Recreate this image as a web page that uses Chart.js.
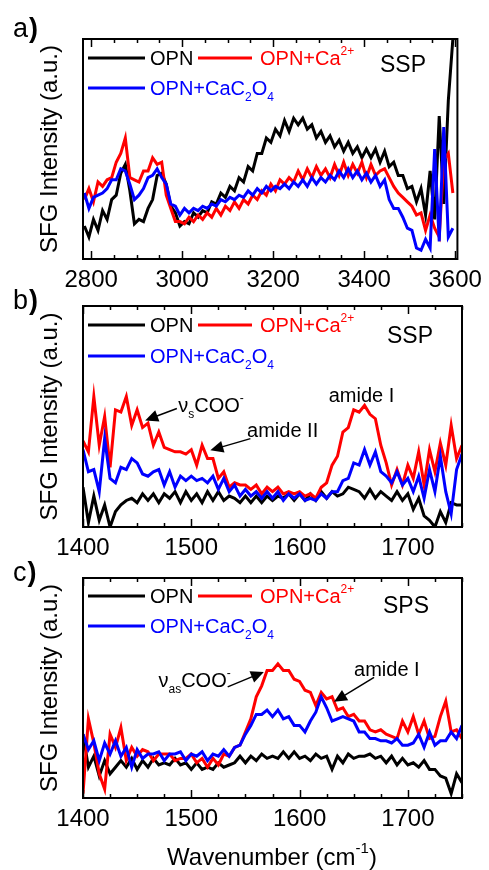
<!DOCTYPE html>
<html><head><meta charset="utf-8">
<script src="https://cdn.jsdelivr.net/npm/chart.js@4.4.0/dist/chart.umd.min.js"></script>
<style>
html,body{margin:0;padding:0;background:#fff;}
#wrap{position:relative;width:489px;height:870px;background:#fff;}
canvas{position:absolute;left:0;top:0;}
</style></head><body>
<div id="wrap">
<canvas id="ca" width="489" height="870"></canvas>
<canvas id="cb" width="489" height="870"></canvas>
<canvas id="cc" width="489" height="870"></canvas>
</div>
<script>
// ---------------- DATA ----------------
const seriesNames = ['OPN', 'OPN+Ca2+', 'OPN+CaC2O4'];
const ticksA = [2800, 3000, 3200, 3400, 3600];
const ticksBC = [1400, 1500, 1600, 1700];

// panel a) SSP, C-H / O-H region
const wavenumbersA = [2785,2795,2805,2815,2825,2835,2845,2855,2865,2875,2885,2895,2905,2915,2925,2935,2945,2955,2965,2975,2985,2995,
3005,3015,3025,3035,3045,3055,3065,3075,3085,3095,3105,3115,3125,3135,3145,3155,3165,3175,3185,3195,
3205,3215,3225,3235,3245,3255,3265,3275,3285,3295,3305,3315,3325,3335,3345,3355,3365,3375,3385,3395,
3405,3415,3425,3435,3445,3455,3465,3475,3485,3495,3505,3515,3525,3535,3545,3555,3565,3575,3585,3595];
const opnA = [15,10,18,13,22,18,27,29,39,43,31,16,18,17,23,27,38,39,34,24,21,15,
17,16,21,19,22,21,26,25,30,28,33,31,37,35,42,40,48,48,55,53,
59,56,63,58,64,61,64,59,61,55,58,53,56,51,54,49,53,48,51,46,
50,46,50,44,49,42,44,38,38,32,33,26,32,20,40,18,65,25,72,100];
const opnCaA = [27,32,26,35,33,36,37,44,48,55,37,36,35,40,40,46,43,44,29,23,17,17,
16,19,17,20,18,21,19,23,20,24,22,26,23,27,25,29,27,31,29,34,
31,36,34,37,35,40,36,41,37,42,38,41,37,43,38,44,38,43,39,44,
37,43,38,40,41,37,33,30,28,26,24,20,21,13,20,14,10,45,48,30];
const opnCaC2O4A = [30,23,28,29,30,32,36,36,41,40,34,27,29,32,37,38,41,37,34,25,24,20,
23,21,23,22,24,23,25,24,27,26,28,27,29,28,31,29,32,30,33,31,
33,32,34,32,35,33,36,33,37,34,37,35,38,36,40,37,41,37,40,36,
39,35,38,33,36,27,23,23,19,14,13,5,4,9,5,50,8,60,10,14];

// panels b) SSP and c) SPS, amide / carboxylate region
const wavenumbersBC = [1400,1405,1410,1415,1420,1425,1430,1435,1440,1445,1450,1455,1460,1465,1470,1475,1480,1485,1490,1495,
1500,1505,1510,1515,1520,1525,1530,1535,1540,1545,1550,1555,1560,1565,1570,1575,1580,1585,1590,1595,
1600,1605,1610,1615,1620,1625,1630,1635,1640,1645,1650,1655,1660,1665,1670,1675,1680,1685,1690,1695,
1700,1705,1710,1715,1720,1725,1730,1735,1740,1745,1750];
const opnB = [18,2,14,3,10,0,7,10,12,13,11,15,12,15,11,15,13,16,11,16,
12,15,11,16,12,16,12,14,13,11,14,11,14,11,14,12,14,13,15,12,
15,12,15,12,16,13,16,14,15,18,17,16,13,17,13,16,14,12,16,12,
15,8,13,5,3,0,7,2,11,10,10];
const opnCaB = [39,34,59,37,50,27,53,52,59,46,53,45,47,37,43,36,35,34,34,33,
35,28,37,31,31,22,25,18,20,19,19,17,19,15,18,16,18,15,16,15,
16,14,15,13,18,20,28,32,43,45,53,52,55,51,49,37,29,19,26,19,
28,22,34,19,35,25,38,28,46,31,37];
const opnCaC2O4B = [35,25,26,16,40,22,20,27,26,31,29,24,23,25,26,19,25,18,23,21,
23,21,22,20,23,17,22,16,19,14,17,14,16,13,16,13,16,12,15,13,
15,12,13,12,15,13,16,16,21,22,29,28,35,28,34,25,23,20,25,19,
22,16,23,13,26,16,32,16,6,26,33];
const opnC = [29,14,19,10,17,11,14,17,14,18,13,17,14,18,15,16,15,18,15,16,
13,16,13,14,13,16,14,15,16,19,16,19,17,20,18,19,18,21,18,21,
18,19,17,20,18,19,13,19,16,20,18,19,19,20,18,19,16,19,15,18,
15,16,14,17,13,13,10,9,2,11,7];
const opnCaC = [2,36,25,11,4,29,23,32,17,23,19,22,21,17,20,20,20,17,18,18,
20,16,18,14,18,15,20,19,23,24,30,36,46,51,58,58,61,58,58,54,
53,49,48,42,48,45,46,40,41,37,38,35,35,31,30,31,29,28,27,35,
30,37,29,35,27,28,37,44,30,31,27];
const opnCaC2O4C = [29,22,26,17,25,20,26,19,23,14,22,18,20,20,21,17,20,20,21,17,
20,19,21,17,20,19,22,19,23,24,29,33,38,38,40,37,40,36,37,33,
33,30,35,39,46,41,35,36,37,36,35,30,30,27,27,26,26,25,27,24,
24,25,29,23,30,24,26,26,30,27,33];

// ---------------- DRAWING HELPERS ----------------
const FONT = '"Liberation Sans", Arial, Helvetica, sans-serif';
const BLACK = '#000000', RED = '#ff0000', BLUE = '#0000ff';

function rich(ctx, x, y, parts, color, size, measureOnly) {
  ctx.save();
  ctx.fillStyle = color; ctx.textBaseline = 'alphabetic'; ctx.textAlign = 'left';
  let w = 0;
  for (const [t, k] of parts) {
    let fs = size, dy = 0;
    if (k === 'sup') { fs = Math.round(size * 0.62); dy = -size * 0.5; }
    if (k === 'sub') { fs = Math.round(size * 0.62); dy = size * 0.3; }
    ctx.font = fs + 'px ' + FONT;
    if (!measureOnly) ctx.fillText(t, x + w, y + dy);
    w += ctx.measureText(t).width;
  }
  ctx.restore();
  return w;
}

function hline(ctx, x1, x2, y, color) {
  ctx.save(); ctx.strokeStyle = color; ctx.lineWidth = 3;
  ctx.beginPath(); ctx.moveTo(x1, y); ctx.lineTo(x2, y); ctx.stroke(); ctx.restore();
}

function arrow(chart, x1, y1, x2, y2) {
  const xs = chart.scales.x, ys = chart.scales.y, ctx = chart.ctx;
  const ax = xs.getPixelForValue(x1), ay = ys.getPixelForValue(y1);
  const bx = xs.getPixelForValue(x2), by = ys.getPixelForValue(y2);
  const ang = Math.atan2(by - ay, bx - ax);
  const hl = 13, hw = 6;
  ctx.save();
  ctx.strokeStyle = BLACK; ctx.fillStyle = BLACK; ctx.lineWidth = 1.5;
  ctx.beginPath(); ctx.moveTo(ax, ay);
  ctx.lineTo(bx - Math.cos(ang) * hl * 0.8, by - Math.sin(ang) * hl * 0.8); ctx.stroke();
  ctx.beginPath();
  ctx.moveTo(bx, by);
  ctx.lineTo(bx - Math.cos(ang) * hl - Math.sin(ang) * hw, by - Math.sin(ang) * hl + Math.cos(ang) * hw);
  ctx.lineTo(bx - Math.cos(ang) * hl + Math.sin(ang) * hw, by - Math.sin(ang) * hl - Math.cos(ang) * hw);
  ctx.closePath(); ctx.fill();
  ctx.restore();
}

function label(chart, xv, yv, parts, size) {
  const xs = chart.scales.x, ys = chart.scales.y;
  rich(chart.ctx, xs.getPixelForValue(xv), ys.getPixelForValue(yv) + size * 0.36, parts, BLACK, size);
}

function makeOverlay(opts) {
  return {
    id: 'overlay' + opts.panel,
    afterDraw(chart) {
      const ctx = chart.ctx, ca = chart.chartArea, xs = chart.scales.x;
      // frame
      ctx.save();
      ctx.strokeStyle = BLACK; ctx.lineWidth = 2;
      ctx.strokeRect(ca.left, ca.top, ca.right - ca.left, ca.bottom - ca.top);
      ctx.lineWidth = 1.5;
      const start = Math.ceil(xs.min / opts.minorStep) * opts.minorStep;
      for (let v = start; v <= xs.max; v += opts.minorStep) {
        const px = Math.round(xs.getPixelForValue(v)) + 0.5;
        const len = opts.majors.includes(v) ? 8 : 4;
        ctx.beginPath();
        ctx.moveTo(px, ca.bottom); ctx.lineTo(px, ca.bottom - len);
        ctx.moveTo(px, ca.top); ctx.lineTo(px, ca.top + len);
        ctx.stroke();
      }
      ctx.restore();
      // legend
      const L = ca.left, r1 = ca.top + opts.row1, r2 = ca.top + opts.row2;
      hline(ctx, L + 5, L + 62, r1, BLACK);
      rich(ctx, L + 67, r1 + 7, [[seriesNames[0], 'n']], BLACK, 20);
      hline(ctx, L + 115, L + 169, r1, RED);
      rich(ctx, L + 177, r1 + 7, [['OPN+Ca', 'n'], ['2+', 'sup']], RED, 20);
      hline(ctx, L + 5, L + 62, r2, BLUE);
      rich(ctx, L + 67, r2 + 7, [['OPN+CaC', 'n'], ['2', 'sub'], ['O', 'n'], ['4', 'sub']], BLUE, 20);
      // polarization
      rich(ctx, L + opts.polX, ca.top + opts.polY + 8, [[opts.pol, 'n']], BLACK, 23);
      // panel label
      ctx.save();
      ctx.fillStyle = BLACK; ctx.textBaseline = 'alphabetic';
      ctx.font = '27px ' + FONT;
      ctx.fillText(opts.panel, 13, opts.labelY);
      const w = ctx.measureText(opts.panel).width;
      ctx.font = 'bold 27px ' + FONT;
      ctx.fillText(')', 13 + w + 1, opts.labelY);
      ctx.restore();
      if (opts.extra) opts.extra(chart);
    }
  };
}

function makeChart(id, xs, s0, s1, s2, cfg) {
  const toPts = arr => arr.map((v, i) => ({ x: xs[i], y: v }));
  const ds = (lbl, arr, col, ord) => ({
    label: lbl, data: toPts(arr), borderColor: col, backgroundColor: col,
    borderWidth: 3, pointRadius: 0, tension: 0, fill: false, order: ord,
    borderJoinStyle: 'miter'
  });
  return new Chart(document.getElementById(id), {
    type: 'line',
    data: { datasets: [ds(seriesNames[0], s0, BLACK, 3), ds(seriesNames[1], s1, RED, 2), ds(seriesNames[2], s2, BLUE, 1)] },
    options: {
      responsive: false, animation: false, devicePixelRatio: 1,
      layout: { padding: { left: 36, right: 27, top: cfg.top, bottom: cfg.bottom } },
      plugins: { legend: { display: false }, tooltip: { enabled: false } },
      scales: {
        x: {
          type: 'linear', min: cfg.xmin, max: cfg.xmax,
          grid: { display: false, drawTicks: false }, border: { display: false },
          ticks: { autoSkip: false, maxRotation: 0, minRotation: 0, padding: 7, color: BLACK,
                   font: { family: FONT, size: 24 }, callback: v => String(v) },
          afterBuildTicks: s => { s.ticks = cfg.ticks.map(v => ({ value: v })); },
          afterFit: s => { s.height = 30; }
        },
        y: {
          min: 0, max: 100,
          grid: { display: false, drawTicks: false }, border: { display: false },
          ticks: { display: false },
          title: { display: true, text: 'SFG Intensity (a.u.)', color: BLACK, font: { family: FONT, size: 24 }, padding: 0 },
          afterFit: s => { s.width = 47; }
        }
      }
    },
    plugins: [makeOverlay(cfg.overlay)]
  });
}

makeChart('ca', wavenumbersA, opnA, opnCaA, opnCaC2O4A, {
  xmin: 2782, xmax: 3605, ticks: ticksA, top: 39, bottom: 581,
  overlay: { panel: 'a', majors: ticksA, minorStep: 50, row1: 19, row2: 49, pol: 'SSP', polX: 297, polY: 25, labelY: 37 }
});

makeChart('cb', wavenumbersBC, opnB, opnCaB, opnCaC2O4B, {
  xmin: 1400, xmax: 1750, ticks: ticksBC, top: 306, bottom: 313,
  overlay: { panel: 'b', majors: ticksBC, minorStep: 25, row1: 19, row2: 50, pol: 'SSP', polX: 304, polY: 29, labelY: 309,
    extra: chart => {
      label(chart, 1488, 55.5, [['\u03bd', 'n'], ['s', 'sub'], ['COO', 'n'], ['-', 'sup']], 20);
      arrow(chart, 1486.7, 53.6, 1457.4, 48.2);
      label(chart, 1551.5, 43.8, [['amide II', 'n']], 20);
      arrow(chart, 1554.6, 40, 1517.6, 34.7);
      label(chart, 1626.9, 59.6, [['amide I', 'n']], 20);
    } }
});

makeChart('cc', wavenumbersBC, opnC, opnCaC, opnCaC2O4C, {
  xmin: 1400, xmax: 1750, ticks: ticksBC, top: 578, bottom: 42,
  overlay: { panel: 'c', majors: ticksBC, minorStep: 25, row1: 18, row2: 48, pol: 'SPS', polX: 300, polY: 27, labelY: 581,
    extra: chart => {
      label(chart, 1469.7, 53.6, [['\u03bd', 'n'], ['as', 'sub'], ['COO', 'n'], ['-', 'sup']], 20);
      arrow(chart, 1533.6, 50.5, 1567, 57.3);
      label(chart, 1650.3, 58.9, [['amide I', 'n']], 20);
      arrow(chart, 1668.8, 54.8, 1631.8, 43.7);
      const ctx = chart.ctx;
      const parts = [['Wavenumber (cm', 'n'], ['-1', 'sup'], [')', 'n']];
      const w = rich(ctx, 0, 0, parts, BLACK, 24, true);
      rich(ctx, 272 - w / 2, 865, parts, BLACK, 24);
    } }
});
</script>
</body></html>
